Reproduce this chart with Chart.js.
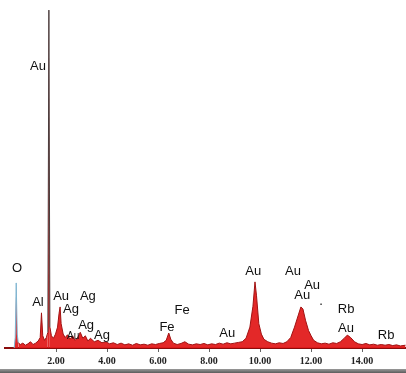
<!DOCTYPE html>
<html>
<head>
<meta charset="utf-8">
<script src="https://cdn.jsdelivr.net/npm/chart.js@4.4.1/dist/chart.umd.min.js"></script>
<style>
  html, body { margin: 0; padding: 0; background: #ffffff; }
  #wrap { position: relative; width: 406px; height: 373px; overflow: hidden; background: #fff; }
  #c { position: absolute; left: 0; top: 0; }
  #bar { position: absolute; left: 0; top: 369px; width: 406px; height: 4px; background: linear-gradient(#9a9a9a, #5c5c5c); }
</style>
</head>
<body>
<div id="wrap">
  <canvas id="c" width="406" height="369"></canvas>
  <div id="bar"></div>
</div>
<script>
// Energy (keV) and counts
const energies = [
  0.36, 0.40, 0.44, 0.48, 0.52, 0.60, 0.70, 0.80, 0.90, 1.00,
  1.10, 1.20, 1.30, 1.38, 1.43, 1.48, 1.55, 1.62, 1.68, 1.72,
  1.76, 1.82, 1.90, 1.98, 2.06, 2.12, 2.16, 2.20, 2.28, 2.36,
  2.45, 2.55, 2.65, 2.75, 2.85, 2.95, 3.05, 3.15, 3.25, 3.35,
  3.50, 3.65, 3.80, 3.95, 4.10, 4.25, 4.40, 4.55, 4.70, 4.85,
  5.00, 5.15, 5.30, 5.45, 5.60, 5.75, 5.90, 6.05, 6.20, 6.32,
  6.42, 6.50, 6.60, 6.75, 6.90, 7.05, 7.20, 7.35, 7.50, 7.65,
  7.80, 7.95, 8.10, 8.25, 8.40, 8.55, 8.70, 8.85, 9.00, 9.15,
  9.30, 9.45, 9.60, 9.72, 9.80, 9.86, 9.95, 10.05, 10.15, 10.30,
  10.45, 10.60, 10.75, 10.90, 11.05, 11.20, 11.35, 11.50, 11.60, 11.68,
  11.78, 11.90, 12.00, 12.10, 12.25, 12.40, 12.55, 12.70, 12.85, 13.00,
  13.15, 13.30, 13.42, 13.55, 13.70, 13.85, 14.00, 14.15, 14.30, 14.45,
  14.60, 14.75, 14.90, 15.05, 15.20, 15.35, 15.50, 15.70
];
const counts = [
  0, 30, 187, 40, 15, 10, 14, 8, 12, 18,
  10, 14, 20, 30, 101, 35, 22, 30, 45, 971,
  60, 35, 28, 40, 60, 100, 118, 70, 40, 30,
  38, 25, 35, 22, 30, 45, 28, 35, 20, 28,
  18, 22, 15, 18, 12, 15, 10, 14, 9, 12,
  8, 13, 9, 11, 8, 12, 10, 13, 15, 22,
  43, 25, 14, 10, 13, 18, 11, 9, 12, 10,
  13, 9, 12, 10, 14, 11, 15, 12, 14, 16,
  18, 28, 60, 120, 190, 150, 70, 40, 25, 18,
  14, 12, 15, 13, 18, 30, 60, 95, 118, 112,
  80, 50, 35, 22, 15, 12, 14, 11, 15, 13,
  18, 28, 37, 30, 18, 12, 10, 13, 9, 11,
  8, 10, 8, 10, 7, 9, 6, 8
];

// Axis ticks
const tickValues = [2, 4, 6, 8, 10, 12, 14];
const tickLabels = ['2.00', '4.00', '6.00', '8.00', '10.00', '12.00', '14.00'];

// Peak annotations (element text, energy keV, count level of the text)
const peakText   = ['O', 'Al', 'Au', 'Au', 'Ag', 'Ag', 'Ag', 'Au', 'Ag', 'Fe', 'Fe', 'Au', 'Au', 'Au', 'Au', 'Au', '.', 'Rb', 'Au', 'Rb'];
const peakEnergy = [0.47, 1.29, 1.29, 2.20, 3.25, 2.59, 3.18, 2.67, 3.80, 6.94, 6.35, 8.71, 9.73, 11.29, 12.04, 11.65, 12.39, 13.37, 13.37, 14.94];
const peakLevel  = [230, 132, 810, 149, 149, 112, 66, 34, 37, 109, 60, 43, 221, 221, 181, 152, 135, 112, 57, 37];

const points = energies.map((e, i) => ({ x: e, y: counts[i] }));

const segColor = (ctx) => {
  const x0 = ctx.p0.parsed.x, x1 = ctx.p1.parsed.x;
  if (x1 <= 0.52) return '#7fb6d2';
  if (x0 >= 1.66 && x1 <= 1.78) return '#4a3c3c';
  return '#a01212';
};

const labelPlugin = {
  id: 'peakLabels',
  afterDatasetsDraw(chart) {
    const { ctx, scales } = chart;
    ctx.save();
    ctx.fillStyle = '#111';
    ctx.textAlign = 'center';
    ctx.textBaseline = 'middle';
    peakText.forEach((t, i) => {
      ctx.font = (i === 7 ? '10px' : '13px') + ' "Liberation Sans", Arial, sans-serif';
      ctx.fillText(t, scales.x.getPixelForValue(peakEnergy[i]), scales.y.getPixelForValue(peakLevel[i]));
    });
    ctx.restore();
  }
};

new Chart(document.getElementById('c'), {
  type: 'line',
  data: {
    datasets: [{
      data: points,
      borderColor: '#a01212',
      borderWidth: 1,
      backgroundColor: 'rgba(226,28,28,0.95)',
      fill: 'origin',
      tension: 0,
      pointRadius: 0,
      segment: { borderColor: segColor }
    }]
  },
  options: {
    responsive: false,
    animation: false,
    devicePixelRatio: 1,
    layout: { padding: { left: 5, right: 0, top: 0, bottom: 0 } },
    plugins: { legend: { display: false }, tooltip: { enabled: false } },
    scales: {
      x: {
        type: 'linear',
        min: 0,
        max: 15.72,
        afterBuildTicks: (scale) => { scale.ticks = tickValues.map(v => ({ value: v })); },
        afterFit: (scale) => { scale.height = 21; },
        ticks: {
          autoSkip: false,
          maxRotation: 0,
          padding: 3,
          color: '#222',
          font: { family: '"Liberation Serif", serif', size: 10, weight: 'bold' },
          callback: (v) => { const i = tickValues.indexOf(v); return i >= 0 ? tickLabels[i] : ''; }
        },
        grid: { display: true, drawOnChartArea: false, drawTicks: true, tickLength: 4, tickColor: '#666' },
        border: { display: true, color: '#8a0c0c', width: 2 }
      },
      y: {
        display: false,
        min: 0,
        max: 1000
      }
    }
  },
  plugins: [labelPlugin]
});
</script>
</body>
</html>
